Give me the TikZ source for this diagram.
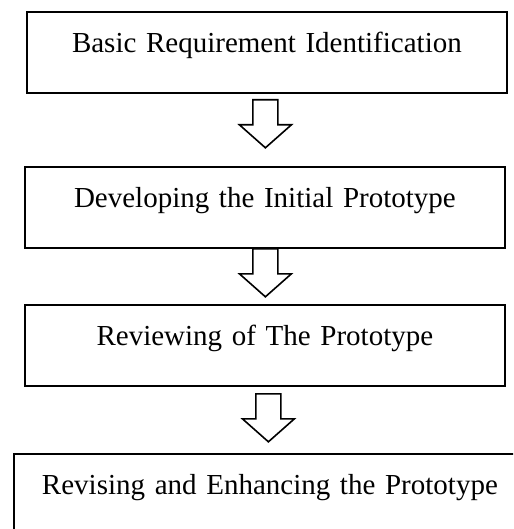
\documentclass[tikz,border=0pt]{standalone}
\usepackage{fontspec}
\setmainfont{Liberation Serif}
\usepackage{tikz}
\usetikzlibrary{
	calc,											% coordinate calculations
}

% hollow block arrow, starting at the middle of its top edge
\newcommand{\hollowarrow}[1]{%
	\draw[hollow] #1 ++(-12.5,0) -- ++(0,25) -- ++(-13.5,0) -- ++(26,23)
		-- ++(26,-23) -- ++(-13.5,0) -- ++(0,-25) -- cycle;}

\tikzset{
	stage/.style={draw, line width=1.8pt, anchor=north west, inner sep=0pt,
		text width=#1, align=center, text height=41pt, text depth=40pt,
		font=\fontsize{29}{34}\selectfont},
	stage/.default=480pt,
	hollow/.style={line width=1.6pt, line join=miter, fill=white},
}

\begin{document}
\begin{tikzpicture}[x=1pt, y=-1pt]
		\clip (0,0) rectangle (513,529);
		\fill[white] (0,0) rectangle (513,529);
		\node[stage] (basic) at (26,11) {Basic Requirement Identification};
		\node[stage] (develop) at (24,166) {Developing the Initial Prototype};
		\node[stage] (review) at (24,304) {Reviewing of The Prototype};
		% last box runs off the page on the right and at the bottom
		\node[stage=512pt] (revise) at (13,453) {Revising and Enhancing the Prototype};
		\hollowarrow{($(basic.south)+(-1.5,6)$)}
		\hollowarrow{($(develop.south)+(0.5,0)$)}
		\hollowarrow{($(review.south)+(3.5,7)$)}
	\end{tikzpicture}
\end{document}
